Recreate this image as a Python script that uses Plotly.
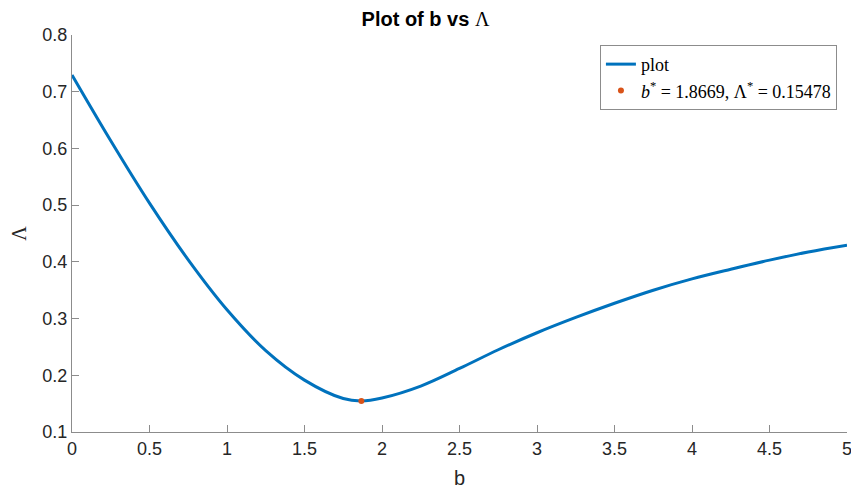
import plotly.graph_objects as go

# Lambda as a function of b
b_vals = [0.0, 0.25, 0.5, 0.75, 1.0, 1.25, 1.5, 1.75, 1.8669, 2.0, 2.25, 2.5,
          2.75, 3.0, 3.25, 3.5, 3.75, 4.0, 4.25, 4.5, 4.75, 5.0]
lam_vals = [0.7295, 0.6135, 0.5035, 0.4035, 0.3155, 0.2435, 0.1915, 0.159,
            0.15478, 0.160, 0.181, 0.212, 0.245, 0.275, 0.302, 0.327, 0.350,
            0.370, 0.387, 0.403, 0.4175, 0.4295]

# Minimum point
b_star = 1.8669
lam_star = 0.15478

x_ticks = [0, 0.5, 1, 1.5, 2, 2.5, 3, 3.5, 4, 4.5, 5]
y_ticks = [0.1, 0.2, 0.3, 0.4, 0.5, 0.6, 0.7, 0.8]

AXIS = "#8c8c8c"
TEXT = "#262626"
SERIF = "Liberation Serif, DejaVu Serif, serif"
SANS = "Liberation Sans, Arial, sans-serif"

fig = go.Figure()
fig.add_trace(go.Scatter(
    x=b_vals, y=lam_vals, mode="lines", name="plot",
    line=dict(color="#0072BD", width=3, shape="spline", smoothing=1.0),
))
fig.add_trace(go.Scatter(
    x=[b_star], y=[lam_star], mode="markers",
    name=f"<i>b</i><sup>*</sup> = {b_star}, Λ<sup>*</sup> = {lam_star}",
    marker=dict(color="#D95319", size=6),
))

fig.update_layout(
    width=851, height=489,
    margin=dict(l=72, r=4, t=35, b=57),
    paper_bgcolor="white", plot_bgcolor="white",
    font=dict(family=SANS, color=TEXT, size=18),
    title=dict(
        text="<b>Plot of b vs </b><span style='font-family:Liberation Serif, DejaVu Serif, serif'>Λ</span>",
        x=0.5, xanchor="center", y=0.962, yanchor="middle",
        font=dict(family=SANS, size=20, color="black"),
    ),
    showlegend=True,
    legend=dict(
        x=0.987, y=0.975, xanchor="right", yanchor="top",
        bgcolor="white", bordercolor=AXIS, borderwidth=1,
        font=dict(family=SERIF, size=18, color="black"),
        itemwidth=30, tracegroupgap=0,
    ),
)

fig.update_xaxes(
    range=[0, 5], tickvals=x_ticks, ticktext=[f"{v:g}" for v in x_ticks],
    ticklabeloverflow="allow", automargin=False,
    showgrid=False, zeroline=False, showline=True, linecolor=AXIS, linewidth=1,
    ticks="inside", ticklen=7, tickcolor=AXIS,
    tickfont=dict(size=18, color=TEXT),
    title=dict(text="b", font=dict(size=20, color=TEXT), standoff=16),
)
fig.update_yaxes(
    range=[0.1, 0.8], tickvals=y_ticks, ticktext=[f"{v:g}" for v in y_ticks],
    automargin=False,
    showgrid=False, zeroline=False, showline=True, linecolor=AXIS, linewidth=1,
    ticks="inside", ticklen=7, tickcolor=AXIS,
    tickfont=dict(size=18, color=TEXT),
    title=dict(text="Λ", font=dict(family=SERIF, size=20, color=TEXT), standoff=10),
)

fig.write_html("out.html")
